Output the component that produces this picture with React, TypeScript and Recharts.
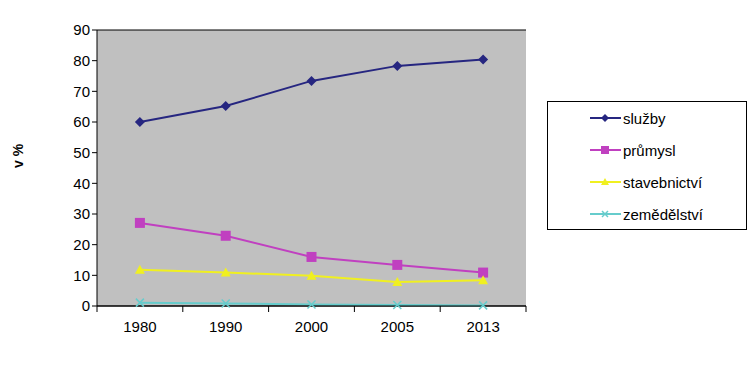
import { CartesianGrid, Line, LineChart, XAxis, YAxis, Label } from "recharts";

const years = ["1980", "1990", "2000", "2005", "2013"];
const sluzby = [60, 65.2, 73.4, 78.3, 80.4];
const prumysl = [27.1, 22.9, 16, 13.4, 10.9];
const stavebnictvi = [11.8, 10.9, 9.9, 7.8, 8.4];
const zemedelstvi = [1.1, 0.8, 0.5, 0.3, 0.2];
const yTicks = [0, 10, 20, 30, 40, 50, 60, 70, 80, 90];

const data = years.map((y, i) => ({
  year: y,
  sluzby: sluzby[i],
  prumysl: prumysl[i],
  stavebnictvi: stavebnictvi[i],
  zemedelstvi: zemedelstvi[i],
}));

const series = [
  { key: "sluzby", name: "služby", color: "#262680", shape: "diamond" },
  { key: "prumysl", name: "průmysl", color: "#C040C0", shape: "square" },
  { key: "stavebnictvi", name: "stavebnictví", color: "#F0F020", shape: "triangle" },
  { key: "zemedelstvi", name: "zemědělství", color: "#66CCCC", shape: "cross" },
];

const FONT = "'Liberation Sans', Arial, sans-serif";
const BAND = 429 / 5;

function Marker({ cx, cy, shape, color, s = 5 }: any) {
  if (cx == null || cy == null) return null;
  if (shape === "diamond")
    return <polygon points={`${cx},${cy - s} ${cx + s},${cy} ${cx},${cy + s} ${cx - s},${cy}`} fill={color} />;
  if (shape === "square")
    return <rect x={cx - s} y={cy - s} width={s * 2} height={s * 2} fill={color} />;
  if (shape === "triangle")
    return <polygon points={`${cx},${cy - s} ${cx + s},${cy + s - 1} ${cx - s},${cy + s - 1}`} fill={color} />;
  return (
    <g stroke={color} strokeWidth={1.5}>
      <line x1={cx - s + 1} y1={cy - s + 1} x2={cx + s - 1} y2={cy + s - 1} />
      <line x1={cx - s + 1} y1={cy + s - 1} x2={cx + s - 1} y2={cy - s + 1} />
    </g>
  );
}

function XTick({ x, y, payload, index }: any) {
  return (
    <g>
      <line x1={x - BAND / 2} y1={y - 8} x2={x - BAND / 2} y2={y - 2} stroke="#000" />
      {index === years.length - 1 && (
        <line x1={x + BAND / 2} y1={y - 8} x2={x + BAND / 2} y2={y - 2} stroke="#000" />
      )}
      <text x={x} y={y + 18} textAnchor="middle" fontSize={15} fontFamily={FONT} fill="#000">
        {payload.value}
      </text>
    </g>
  );
}

function LegendBox() {
  return (
    <div
      style={{
        position: "absolute",
        left: 547,
        top: 101,
        border: "1px solid #000",
        width: 200,
        height: 129,
        boxSizing: "border-box",
        background: "#fff",
        paddingTop: 0,
      }}
    >
      {series.map((s) => (
        <div key={s.key} style={{ display: "flex", alignItems: "center", height: 32, paddingLeft: 41 }}>
          <svg width={34} height={14}>
            <line x1={1} y1={7} x2={32} y2={7} stroke={s.color} strokeWidth={2} />
            <Marker cx={16} cy={7} shape={s.shape} color={s.color} s={4} />
          </svg>
          <span style={{ fontSize: 15, fontFamily: FONT, color: "#000", marginLeft: 0 }}>{s.name}</span>
        </div>
      ))}
    </div>
  );
}

export default function App() {
  return (
    <div style={{ position: "absolute", left: 0, top: 0, width: 752, height: 365, background: "#fff" }}>
      <LineChart
        width={752}
        height={365}
        data={data}
        margin={{ top: 30, right: 226, bottom: 29, left: 40 }}
      >
        <CartesianGrid fill="#C0C0C0" stroke="#000" vertical={false} />
        <XAxis
          dataKey="year"
          scale="band"
          axisLine={{ stroke: "#000" }}
          tickLine={false}
          tick={<XTick />}
          height={30}
          interval={0}
        />
        <YAxis
          yAxisId="l"
          domain={[0, 90]}
          ticks={yTicks}
          interval={0}
          width={57}
          axisLine={{ stroke: "#000" }}
          tickLine={{ stroke: "#000" }}
          tickSize={5}
          tick={{ fontSize: 15, fontFamily: FONT, fill: "#000" }}
        >
          <Label
            value="v %"
            angle={-90}
            position="insideLeft"
            offset={-22}
            style={{ fontSize: 14, fontWeight: "bold", fontFamily: FONT, fill: "#000" }}
          />
        </YAxis>
        <YAxis
          yAxisId="r"
          orientation="right"
          domain={[0, 90]}
          width={0}
          tick={false}
          tickLine={false}
          axisLine={{ stroke: "#808080" }}
        />
        {series.map((s) => (
          <Line
            key={s.key}
            yAxisId="l"
            dataKey={s.key}
            name={s.name}
            stroke={s.color}
            strokeWidth={2}
            isAnimationActive={false}
            dot={(p: any) => <Marker key={`${s.key}-${p.index}`} cx={p.cx} cy={p.cy} shape={s.shape} color={s.color} />}
            activeDot={false}
          />
        ))}
      </LineChart>
      <LegendBox />
    </div>
  );
}
